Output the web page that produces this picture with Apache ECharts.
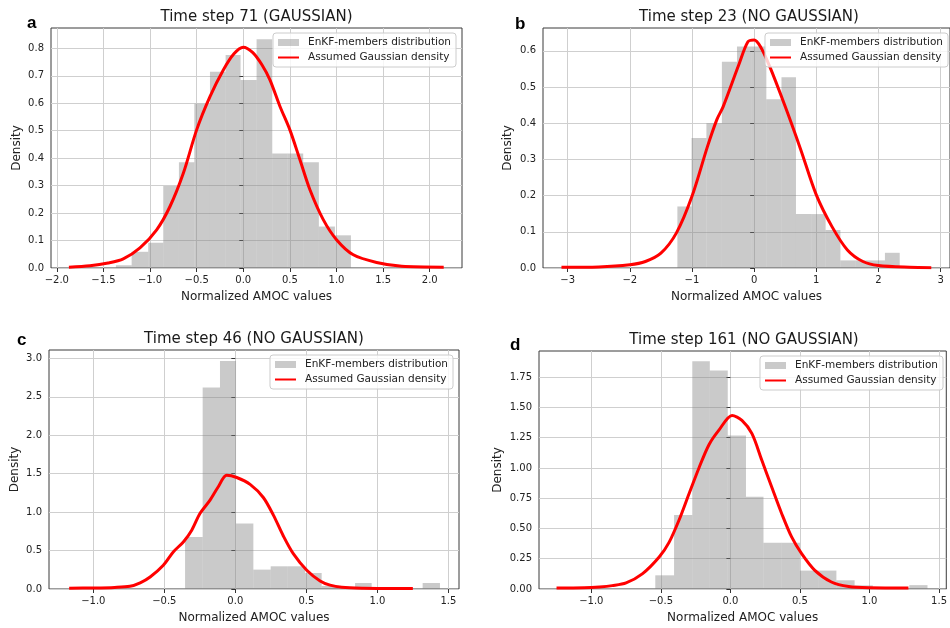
<!DOCTYPE html>
<html>
<head>
<meta charset="utf-8">
<script src="https://cdn.jsdelivr.net/npm/echarts@6/dist/echarts.min.js"></script>
<style>
  html, body { margin: 0; padding: 0; background: #fff; }
  #main { width: 950px; height: 628px; }
</style>
</head>
<body>
<div id="main"></div>
<script>
// panel a - time step 71
var aEdges = [-1.366, -1.197, -1.019, -0.858, -0.690, -0.525, -0.357, -0.189, -0.029, 0.143, 0.311, 0.475, 0.643, 0.811, 0.983, 1.155];
var aHeights = [0.01, 0.059, 0.092, 0.299, 0.385, 0.598, 0.715, 0.776, 0.685, 0.833, 0.417, 0.417, 0.385, 0.151, 0.119];
var aCurveX = [-1.87, -1.644, -1.45, -1.287, -1.108, -0.929, -0.786, -0.643, -0.5, -0.357, -0.214, -0.1, 0.0, 0.1, 0.2, 0.286, 0.394, 0.5, 0.608, 0.715, 0.858, 1.0, 1.18, 1.43, 1.7, 2.15];
var aCurveY = [0.003, 0.008, 0.018, 0.033, 0.073, 0.139, 0.224, 0.345, 0.503, 0.624, 0.721, 0.78, 0.804, 0.785, 0.74, 0.685, 0.588, 0.503, 0.394, 0.285, 0.176, 0.103, 0.048, 0.02, 0.006, 0.003];
var aXTicks = [-2, -1.5, -1, -0.5, 0, 0.5, 1, 1.5, 2];
var aYTicks = [0, 0.1, 0.2, 0.3, 0.4, 0.5, 0.6, 0.7, 0.8];

// panel b - time step 23
var bEdges = [-1.235, -1.007, -0.768, -0.519, -0.276, -0.037, 0.196, 0.440, 0.673, 0.917, 1.150, 1.388, 1.627, 1.865, 2.104, 2.342];
var bHeights = [0.17, 0.359, 0.40, 0.57, 0.612, 0.612, 0.466, 0.527, 0.149, 0.149, 0.105, 0.021, 0.021, 0.021, 0.042];
var bCurveX = [-3.1, -2.5, -2.0, -1.75, -1.5, -1.25, -1.0, -0.75, -0.6, -0.5, -0.25, -0.1, 0.0, 0.1, 0.25, 0.5, 0.75, 1.0, 1.25, 1.5, 1.75, 2.0, 2.5, 2.85];
var bCurveY = [0.002, 0.003, 0.009, 0.018, 0.041, 0.097, 0.198, 0.336, 0.41, 0.445, 0.56, 0.625, 0.63, 0.612, 0.557, 0.446, 0.327, 0.202, 0.115, 0.05, 0.018, 0.007, 0.002, 0.001];
var bXTicks = [-3, -2, -1, 0, 1, 2, 3];
var bYTicks = [0, 0.1, 0.2, 0.3, 0.4, 0.5, 0.6];

// panel c - time step 46
var cEdges = [-0.354, -0.230, -0.108, 0.005, 0.127, 0.249, 0.366, 0.491, 0.608, 0.725, 0.843, 0.960, 1.085, 1.202, 1.319, 1.441];
var cHeights = [0.677, 2.62, 2.966, 0.852, 0.252, 0.295, 0.295, 0.208, 0.04, 0, 0.078, 0, 0.026, 0, 0.078];
var cCurveX = [-1.17, -1.0, -0.85, -0.742, -0.67, -0.6, -0.507, -0.437, -0.366, -0.307, -0.249, -0.178, -0.12, -0.061, 0.01, 0.104, 0.197, 0.268, 0.338, 0.408, 0.503, 0.597, 0.667, 0.75, 0.9, 1.05, 1.25];
var cCurveY = [0.01, 0.013, 0.02, 0.035, 0.08, 0.156, 0.309, 0.482, 0.612, 0.765, 0.982, 1.155, 1.33, 1.48, 1.45, 1.36, 1.19, 0.96, 0.69, 0.46, 0.244, 0.105, 0.05, 0.022, 0.01, 0.008, 0.008];
var cXTicks = [-1, -0.5, 0, 0.5, 1, 1.5];
var cYTicks = [0, 0.5, 1, 1.5, 2, 2.5, 3];

// panel d - time step 161
var dEdges = [-0.540, -0.405, -0.274, -0.148, -0.019, 0.112, 0.238, 0.369, 0.500, 0.631, 0.762, 0.893, 1.024, 1.155, 1.286, 1.417];
var dHeights = [0.113, 0.612, 1.882, 1.805, 1.269, 0.763, 0.382, 0.382, 0.152, 0.152, 0.072, 0.03, 0, 0, 0.032];
var dCurveX = [-1.25, -1.05, -0.941, -0.85, -0.75, -0.631, -0.512, -0.441, -0.369, -0.298, -0.226, -0.155, -0.084, 0.012, 0.083, 0.155, 0.226, 0.297, 0.369, 0.44, 0.512, 0.607, 0.726, 0.85, 1.0, 1.28];
var dCurveY = [0.008, 0.01, 0.017, 0.028, 0.05, 0.127, 0.264, 0.385, 0.57, 0.785, 1.0, 1.19, 1.31, 1.434, 1.393, 1.283, 1.063, 0.842, 0.622, 0.43, 0.292, 0.154, 0.058, 0.02, 0.01, 0.008];
var dXTicks = [-1, -0.5, 0, 0.5, 1, 1.5];
var dYTicks = [0, 0.25, 0.5, 0.75, 1, 1.25, 1.5, 1.75];

var histName = 'EnKF-members distribution';
var curveName = 'Assumed Gaussian density';
var font = 'DejaVu Sans';

var panels = [
    { letter: 'a', title: 'Time step 71 (GAUSSIAN)', edges: aEdges, heights: aHeights, cx: aCurveX, cy: aCurveY,
      xTicks: aXTicks, yTicks: aYTicks, xDec: 1, yDec: 1, xMin: -2.062, xMax: 2.346, yMax: 0.874,
      grid: { left: 51, top: 28, width: 411, height: 240 }, letterPos: [27, 15], legendRight: 494, yGap: 28 },
    { letter: 'b', title: 'Time step 23 (NO GAUSSIAN)', edges: bEdges, heights: bHeights, cx: bCurveX, cy: bCurveY,
      xTicks: bXTicks, yTicks: bYTicks, xDec: 0, yDec: 1, xMin: -3.397, xMax: 3.151, yMax: 0.663,
      grid: { left: 543, top: 28, width: 412, height: 240 }, letterPos: [515, 16], legendRight: 2, yGap: 29 },
    { letter: 'c', title: 'Time step 46 (NO GAUSSIAN)', edges: cEdges, heights: cHeights, cx: cCurveX, cy: cCurveY,
      xTicks: cXTicks, yTicks: cYTicks, xDec: 1, yDec: 1, xMin: -1.312, xMax: 1.575, yMax: 3.108,
      grid: { left: 49, top: 350, width: 410, height: 239 }, letterPos: [17, 332], legendRight: 497, yGap: 28 },
    { letter: 'd', title: 'Time step 161 (NO GAUSSIAN)', edges: dEdges, heights: dHeights, cx: dCurveX, cy: dCurveY,
      xTicks: dXTicks, yTicks: dYTicks, xDec: 1, yDec: 2, xMin: -1.376, xMax: 1.552, yMax: 1.966,
      grid: { left: 539, top: 351, width: 410, height: 238 }, letterPos: [510, 337], legendRight: 7, yGap: 35 }
];

function fmt(dec) {
    return function(v) {
        var s = Number(v).toFixed(dec);
        return s.charAt(0) === '-' ? '\u2212' + s.slice(1) : s;
    };
}

function renderHist(params, api) {
    var p0 = api.coord([api.value(0), api.value(2)]);
    var p1 = api.coord([api.value(1), 0]);
    return {
        type: 'rect',
        shape: { x: p0[0], y: p0[1], width: p1[0] - p0[0], height: p1[1] - p0[1] },
        style: { fill: 'rgba(128,128,128,0.42)' }
    };
}

var option = {
    animation: false,
    backgroundColor: '#fff',
    title: [], grid: [], xAxis: [], yAxis: [], legend: [], series: []
};

panels.forEach(function(p, i) {
    var g = p.grid;
    option.grid.push({
        left: g.left, top: g.top, width: g.width, height: g.height,
        show: true, borderColor: '#3a3a3a', borderWidth: 1, backgroundColor: 'transparent'
    });
    option.title.push({
        text: p.title, left: g.left + g.width / 2, top: g.top - 18, textAlign: 'center', padding: 0,
        textStyle: { fontFamily: font, fontSize: 15, fontWeight: 'normal', color: '#1a1a1a' }
    });
    option.title.push({
        text: p.letter, left: p.letterPos[0], top: p.letterPos[1], padding: 0,
        textStyle: { fontFamily: 'Liberation Sans', fontSize: 17, fontWeight: 'bold', color: '#000' }
    });
    option.xAxis.push({
        type: 'value', gridIndex: i, min: p.xMin, max: p.xMax,
        name: 'Normalized AMOC values', nameLocation: 'middle', nameGap: 23,
        nameTextStyle: { fontFamily: font, fontSize: 12, color: '#222' },
        axisLine: { show: false },
        axisTick: { show: true, length: 4, lineStyle: { color: '#333' }, customValues: p.xTicks },
        axisLabel: { customValues: p.xTicks, formatter: fmt(p.xDec), margin: 7, showMaxLabel: true,
                     fontFamily: font, fontSize: 10, color: '#222' },
        splitLine: { show: true, lineStyle: { color: '#cfcfcf', width: 1 } }
    });
    option.yAxis.push({
        type: 'value', gridIndex: i, min: 0, max: p.yMax,
        name: 'Density', nameLocation: 'middle', nameGap: p.yGap,
        nameTextStyle: { fontFamily: font, fontSize: 12, color: '#222' },
        axisLine: { show: false },
        axisTick: { show: true, length: 4, lineStyle: { color: '#333' }, customValues: p.yTicks },
        axisLabel: { customValues: p.yTicks, formatter: fmt(p.yDec), margin: 7,
                     fontFamily: font, fontSize: 10, color: '#222' },
        splitLine: { show: true, lineStyle: { color: '#cfcfcf', width: 1 } }
    });
    option.legend.push({
        orient: 'vertical', right: p.legendRight, top: g.top + 5,
        data: [
            { name: histName, icon: 'rect' },
            { name: curveName, itemStyle: { opacity: 0 } }
        ],
        itemWidth: 21, itemHeight: 7, itemGap: 4,
        padding: [4, 5, 4, 4],
        backgroundColor: 'rgba(255,255,255,0.8)', borderColor: '#cccccc', borderWidth: 1, borderRadius: 3,
        textStyle: { fontFamily: font, fontSize: 10.5, color: '#222', padding: [0, 0, 0, 4] },
        selectedMode: false
    });

    var bins = [];
    for (var k = 0; k < p.heights.length; k++) {
        bins.push([p.edges[k], p.edges[k + 1], p.heights[k]]);
    }
    option.series.push({
        name: histName, type: 'custom', xAxisIndex: i, yAxisIndex: i,
        renderItem: renderHist, encode: { x: [0, 1], y: 2 },
        itemStyle: { color: 'rgba(128,128,128,0.42)' },
        data: bins, z: 2
    });
    var pts = p.cx.map(function(x, j) { return [x, p.cy[j]]; });
    option.series.push({
        name: curveName, type: 'line', xAxisIndex: i, yAxisIndex: i,
        data: pts, smooth: 0.3, symbol: 'none', showSymbol: false,
        lineStyle: { color: '#ff0000', width: 3 }, itemStyle: { color: '#ff0000' },
        z: 3
    });
});

var myChart = echarts.init(document.getElementById('main'));
myChart.setOption(option);
</script>
</body>
</html>
